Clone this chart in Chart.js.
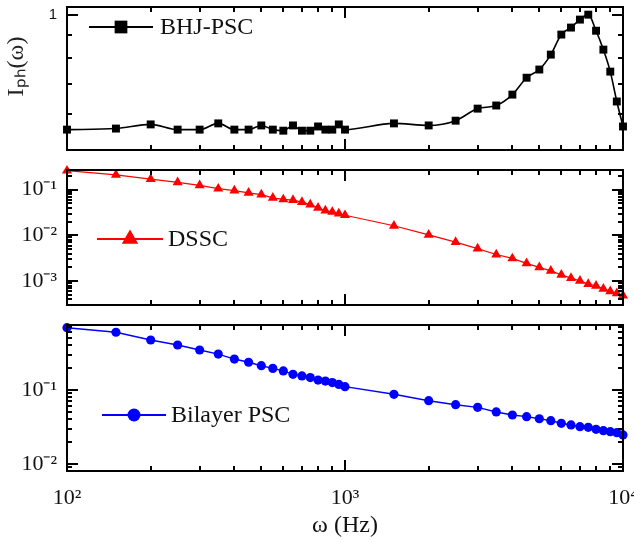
<!DOCTYPE html>
<html>
<head>
<meta charset="utf-8">
<script src="https://cdn.jsdelivr.net/npm/chart.js@4.4.1/dist/chart.umd.min.js"></script>
<style>
    html, body { margin: 0; padding: 0; background: #fff; }
    .painel { position: absolute; left: 0; top: 0; width: 634px; height: 542px; }
</style>
</head>
<body>
<div class="painel"><canvas id="graficoBHJ"></canvas></div>
<div class="painel"><canvas id="graficoDSSC"></canvas></div>
<div class="painel"><canvas id="graficoBilayer"></canvas></div>
<script>
// frequencias (Hz) - mesmas para as tres curvas
const frequencias = [100, 150, 200, 250, 300, 350, 400, 450, 500, 550, 600, 650, 700, 750, 800, 850, 900, 950, 1000,
    1500, 2000, 2500, 3000, 3500, 4000, 4500, 5000, 5500, 6000, 6500, 7000, 7500, 8000, 8500, 9000, 9500, 10000];

// Iph(w) normalizado
const bhjPsc = [0.555, 0.558, 0.570, 0.555, 0.555, 0.573, 0.555, 0.555, 0.567, 0.555, 0.552, 0.567, 0.552, 0.552, 0.564, 0.555, 0.555, 0.570, 0.555,
    0.573, 0.567, 0.581, 0.618, 0.628, 0.664, 0.724, 0.755, 0.815, 0.903, 0.936, 0.975, 1.0, 0.921, 0.836, 0.747, 0.641, 0.564];

const dssc = [0.260, 0.210, 0.170, 0.144, 0.124, 0.105, 0.0952, 0.0849, 0.078, 0.0663, 0.061, 0.0589, 0.0533, 0.047, 0.040, 0.035, 0.0325, 0.030, 0.0276,
    0.01625, 0.01026, 0.00714, 0.00513, 0.00381, 0.00313, 0.00244, 0.0020, 0.00167, 0.00137, 0.00116, 0.00101, 0.00086, 0.00079, 0.00068, 0.0006, 0.00054, 0.00048];

const bilayerPsc = [0.695, 0.603, 0.474, 0.406, 0.347, 0.306, 0.262, 0.237, 0.213, 0.196, 0.181, 0.163, 0.155, 0.147, 0.136, 0.132, 0.126, 0.119, 0.111,
    0.0875, 0.0717, 0.0633, 0.0583, 0.0505, 0.0459, 0.0436, 0.0409, 0.0385, 0.0355, 0.0337, 0.0319, 0.0313, 0.0294, 0.0282, 0.0273, 0.0265, 0.0247];

const nomesSeries = ["BHJ-PSC", "DSSC", "Bilayer PSC"];

Chart.defaults.font.family = "'Liberation Serif', 'Times New Roman', serif";
Chart.defaults.color = "#111";

const sobrescrito = { "-": "\u207B", "0": "\u2070", "1": "\u00B9", "2": "\u00B2", "3": "\u00B3", "4": "\u2074" };

function potenciaDez(valor) {
    let e = Math.log10(valor);
    if (Math.abs(e - Math.round(e)) > 1e-9) return "";
    return "10" + String(Math.round(e)).split("").map(c => sobrescrito[c]).join("");
}

// retorna 1..9 se o valor for um tick "inteiro" do eixo log, senao null
function mantissa(v) {
    let e = Math.floor(Math.log10(v) + 1e-9);
    let m = v / Math.pow(10, e);
    let r = Math.round(m);
    return Math.abs(m - r) < 1e-6 ? r : null;
}

// caixa em volta do grafico com ticks para dentro nos 4 lados
const caixaEixos = {
    id: "caixaEixos",
    afterDraw(chart) {
        const { ctx, chartArea: a, scales } = chart;
        ctx.save();
        ctx.fillStyle = "#000";
        scales.x.ticks.forEach((t) => {
            let m = mantissa(t.value);
            if (m === null) return;
            let len = m === 1 ? 11 : 5;
            let px = Math.round(scales.x.getPixelForValue(t.value));
            ctx.fillRect(px - 1, a.bottom - len, 2, len);
            ctx.fillRect(px - 1, a.top, 2, len);
        });
        scales.y.ticks.forEach((t) => {
            let m = mantissa(t.value);
            if (m === null) return;
            let len = m === 1 ? 11 : 5;
            let py = Math.round(scales.y.getPixelForValue(t.value));
            ctx.fillRect(a.left, py - 1, len, 2);
            ctx.fillRect(a.right - len, py - 1, len, 2);
        });
        ctx.strokeStyle = "#000";
        ctx.lineWidth = 2;
        ctx.strokeRect(a.left, a.top, a.right - a.left, a.bottom - a.top);
        ctx.restore();
    }
};

// legenda desenhada dentro da area do grafico
const legendaInterna = {
    id: "legendaInterna",
    afterDraw(chart, args, opts) {
        const ctx = chart.ctx;
        const ds = chart.data.datasets[0];
        ctx.save();
        ctx.strokeStyle = ds.borderColor;
        ctx.fillStyle = ds.borderColor;
        ctx.lineWidth = 2;
        ctx.beginPath();
        ctx.moveTo(opts.x1, opts.y);
        ctx.lineTo(opts.x2, opts.y);
        ctx.stroke();
        Chart.helpers.drawPoint(ctx, { pointStyle: ds.pointStyle, radius: opts.raio, rotation: 0, borderWidth: 0 }, (opts.x1 + opts.x2) / 2, opts.y);
        ctx.fillStyle = "#111";
        ctx.font = "24px 'Liberation Serif'";
        ctx.textBaseline = "middle";
        ctx.fillText(ds.label, opts.xTexto, opts.y + 1);
        ctx.restore();
    }
};

function criarGrafico(idCanvas, cfg) {
    let dados = {
        datasets: [
            {
                label: cfg.nome,
                data: frequencias.map((f, i) => ({ x: f, y: cfg.valores[i] })),
                borderColor: cfg.cor,
                backgroundColor: cfg.cor,
                borderWidth: cfg.espessura,
                pointStyle: cfg.marcador,
                pointRadius: cfg.raio,
                pointBorderWidth: 0,
                pointBackgroundColor: cfg.cor,
                cubicInterpolationMode: cfg.suave ? "monotone" : "default",
                tension: 0,
                clip: false
            }
        ]
    };

    const config = {
        type: "line",
        data: dados,
        plugins: [caixaEixos, legendaInterna],
        options: {
            responsive: true,
            maintainAspectRatio: false,
            animation: false,
            layout: { padding: { top: cfg.topo, bottom: cfg.baixo, left: 0, right: 11 } },
            plugins: {
                legend: { display: false },
                tooltip: { enabled: false },
                legendaInterna: cfg.legenda
            },
            scales: {
                x: {
                    type: "logarithmic",
                    min: 100,
                    max: 10000,
                    grid: { display: false, drawTicks: false },
                    border: { display: false },
                    ticks: {
                        display: cfg.rotulosX,
                        autoSkip: false,
                        maxRotation: 0,
                        padding: 14,
                        font: { size: 22 },
                        color: "#111",
                        callback: (v) => potenciaDez(v)
                    },
                    title: {
                        display: cfg.rotulosX,
                        text: "\u03C9 (Hz)",
                        font: { size: 24 },
                        color: "#111",
                        padding: { top: 0, bottom: 2 }
                    },
                    afterFit: (scale) => {
                        scale.height = cfg.alturaX;
                        scale.paddingLeft = 0;
                        scale.paddingRight = 0;
                    }
                },
                y: {
                    type: "logarithmic",
                    min: cfg.yMin,
                    max: cfg.yMax,
                    grid: { display: false, drawTicks: false },
                    border: { display: false },
                    ticks: {
                        autoSkip: false,
                        padding: 10,
                        font: cfg.fonteY,
                        color: "#111",
                        callback: cfg.rotuloY
                    },
                    title: {
                        display: cfg.tituloY !== "",
                        text: cfg.tituloY,
                        font: { size: 24 },
                        color: "#222",
                        padding: { top: 2, bottom: 0 }
                    },
                    afterFit: (scale) => {
                        scale.width = 67;
                        scale.paddingTop = 0;
                        scale.paddingBottom = 0;
                    }
                }
            }
        }
    };

    return new Chart(document.getElementById(idCanvas), config);
}

criarGrafico("graficoBHJ", {
    nome: nomesSeries[0], valores: bhjPsc, cor: "#000000", espessura: 1.6, marcador: "rect", raio: 5.6, suave: true,
    topo: 7, baixo: 392, alturaX: 0, rotulosX: false,
    yMin: 0.5, yMax: 1.04, fonteY: { size: 15, family: "'Liberation Sans', Arial, sans-serif" },
    rotuloY: (v) => (Math.abs(v - 1) < 1e-9 ? "1" : ""),
    // espacos no inicio para subir o titulo como no original
    tituloY: "    I\u209A\u2095(\u03C9)",
    legenda: { x1: 89, x2: 153, y: 27, raio: 9, xTexto: 160 }
});

criarGrafico("graficoDSSC", {
    nome: nomesSeries[1], valores: dssc, cor: "#ff0000", espessura: 1.2, marcador: "triangle", raio: 5.8, suave: false,
    topo: 170, baixo: 237, alturaX: 0, rotulosX: false,
    yMin: 0.000337, yMax: 0.269, fonteY: { size: 22 },
    rotuloY: (v) => potenciaDez(v),
    tituloY: "",
    legenda: { x1: 97, x2: 163, y: 239, raio: 9.5, xTexto: 168 }
});

criarGrafico("graficoBilayer", {
    nome: nomesSeries[2], valores: bilayerPsc, cor: "#0000ff", espessura: 1.4, marcador: "circle", raio: 4.6, suave: false,
    topo: 325, baixo: 0, alturaX: 71, rotulosX: true,
    yMin: 0.00804, yMax: 0.756, fonteY: { size: 22 },
    rotuloY: (v) => potenciaDez(v),
    tituloY: "",
    legenda: { x1: 102, x2: 166, y: 415, raio: 6.5, xTexto: 171 }
});
</script>
</body>
</html>
